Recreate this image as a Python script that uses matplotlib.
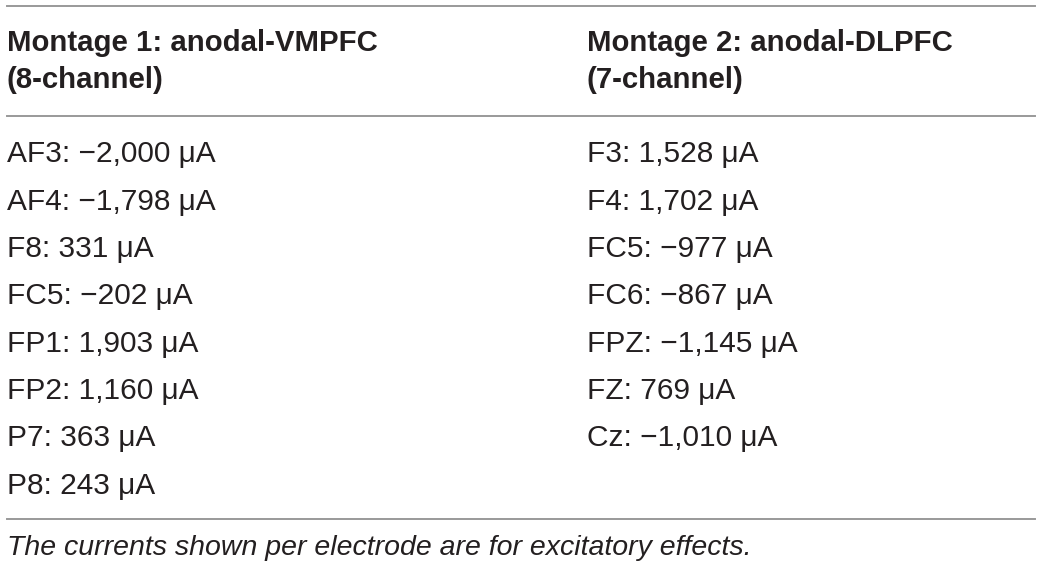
import matplotlib.pyplot as plt

plt.rcParams['font.family'] = ['Liberation Sans', 'DejaVu Sans']

headers = ["Montage 1: anodal-VMPFC\n(8-channel)", "Montage 2: anodal-DLPFC\n(7-channel)"]
m1_elec = ["AF3", "AF4", "F8", "FC5", "FP1", "FP2", "P7", "P8"]
m1_curr = [-2000, -1798, 331, -202, 1903, 1160, 363, 243]
m2_elec = ["F3", "F4", "FC5", "FC6", "FPZ", "FZ", "Cz"]
m2_curr = [1528, 1702, -977, -867, -1145, 769, -1010]
note = "The currents shown per electrode are for excitatory effects."


def fmt(name, val):
    s = f"{abs(val):,}"
    if val < 0:
        s = "\u2212" + s
    return f"{name}: {s} \u03bcA"


fig = plt.figure(figsize=(10.4, 5.67), dpi=100)
ax = fig.add_axes([0, 0, 1, 1])
ax.set_xlim(0, 1040)
ax.set_ylim(567, 0)
ax.axis('off')

col_x = [7, 587]
txt = '#231f20'
for y in [5.5, 116, 518.5]:
    ax.plot([7, 1035], [y, y], color='#999999', lw=1.4)

# header, two lines each
for x, h in zip(col_x, headers):
    for j, line in enumerate(h.split('\n')):
        ax.text(x, 51 + j * 37, line, fontsize=21.2, fontweight='bold',
                color=txt, va='baseline', ha='left')

row_y0, row_dy = 162.5, 47.3
for col, (names, vals) in enumerate([(m1_elec, m1_curr), (m2_elec, m2_curr)]):
    for i, (n, v) in enumerate(zip(names, vals)):
        ax.text(col_x[col], row_y0 + i * row_dy, fmt(n, v), fontsize=21.5,
                color=txt, va='baseline', ha='left')

ax.text(col_x[0], 555, note, fontsize=20.5, style='italic', color=txt,
        va='baseline', ha='left')

fig.savefig('out.png', dpi=100)
